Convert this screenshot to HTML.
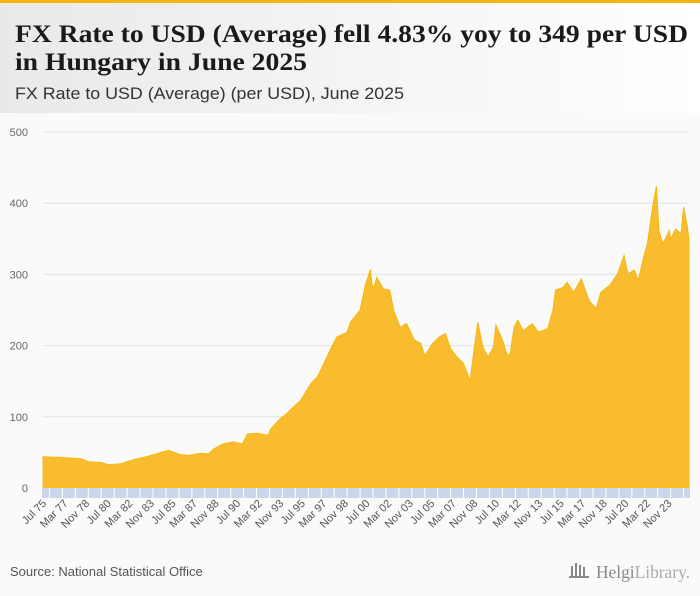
<!DOCTYPE html>
<html><head><meta charset="utf-8"><style>
html,body{margin:0;padding:0;background:#fafafa;}
svg{display:block;font-family:"Liberation Sans",sans-serif;}
</style></head><body>
<svg id="chart" width="700" height="596" viewBox="0 0 700 596" xmlns="http://www.w3.org/2000/svg">
<defs>
<linearGradient id="hdr" x1="0" x2="1" y1="0" y2="0"><stop offset="0" stop-color="#e9e9e9"/><stop offset="1" stop-color="#ffffff"/></linearGradient>
</defs>
<rect x="0" y="0" width="700" height="596" fill="#fafafa"/>
<rect x="0" y="3" width="700" height="110" fill="url(#hdr)"/>
<rect x="0" y="0" width="700" height="3" fill="#f5b400"/>
<text x="15" y="42" font-family="Liberation Serif,serif" font-weight="bold" font-size="25" fill="#1a1a1a" textLength="673" lengthAdjust="spacingAndGlyphs">FX Rate to USD (Average) fell 4.83% yoy to 349 per USD</text>
<text x="15" y="70" font-family="Liberation Serif,serif" font-weight="bold" font-size="25" fill="#1a1a1a" textLength="292" lengthAdjust="spacingAndGlyphs">in Hungary in June 2025</text>
<text x="15" y="99" font-size="17" fill="#333" textLength="389" lengthAdjust="spacingAndGlyphs">FX Rate to USD (Average) (per USD), June 2025</text>
<g id="grid"></g>
<g id="yticks"></g>
<path id="area" fill="#f9bc2f" stroke="#f5b400" stroke-width="0.8"/>
<g id="xband"></g>
<text x="10" y="576" font-size="13" fill="#555">Source: National Statistical Office</text>
<g>
<g fill="#888"><rect x="571" y="566" width="2" height="11"/><rect x="575" y="563" width="2" height="14"/><rect x="579" y="565" width="2" height="12"/><rect x="583" y="567" width="2" height="10"/><rect x="569" y="576" width="20" height="2"/></g>
<text x="596" y="578" font-family="Liberation Serif,serif" font-size="18" fill="#888" textLength="94" lengthAdjust="spacingAndGlyphs">Helgi<tspan fill="#aaa">Library.</tspan></text>
</g>
</svg>
<script>
const dates=[1975.5,1977.0,1978.5,1979.0,1980.0,1980.5,1981.5,1982.0,1982.5,1983.5,1984.6,1985.2,1986.1,1986.8,1987.7,1988.3,1988.7,1989.4,1990.2,1990.9,1991.3,1992.1,1992.9,1993.1,1993.8,1994.3,1994.8,1995.4,1996.2,1996.7,1997.2,1997.8,1998.2,1999.0,1999.25,2000.0,2000.4,2000.8,2001.0,2001.3,2001.8,2002.3,2002.6,2003.1,2003.6,2004.2,2004.7,2005.0,2005.6,2006.1,2006.6,2007.0,2007.5,2008.0,2008.5,2008.9,2009.1,2009.5,2009.9,2010.3,2010.5,2011.0,2011.4,2011.6,2011.9,2012.2,2012.6,2013.3,2013.8,2014.5,2014.9,2015.1,2015.7,2016.0,2016.5,2017.1,2017.6,2017.8,2018.25,2018.6,2019.3,2019.9,2020.4,2020.7,2021.2,2021.5,2021.9,2022.2,2022.6,2022.9,2023.1,2023.4,2023.9,2024.0,2024.4,2024.8,2025.0,2025.3,2025.42];
const values=[44,43,41,37,36,33,34,37,40,44,50,53,47,46,49,48,55,62,65,62,76,77,74,83,97,104,113,123,147,156,175,198,212,219,233,250,285,307,278,296,280,278,250,226,231,208,203,186,203,212,217,196,184,175,151,208,233,198,184,198,229,208,186,189,226,236,221,231,219,224,250,278,282,289,275,294,268,261,252,275,285,301,327,301,306,292,324,343,395,424,362,343,362,350,364,357,395,367,349];
const yTicks=[0,100,200,300,400,500];
const xLabels=["Jul 75","Mar 77","Nov 78","Jul 80","Mar 82","Nov 83","Jul 85","Mar 87","Nov 88","Jul 90","Mar 92","Nov 93","Jul 95","Mar 97","Nov 98","Jul 00","Mar 02","Nov 03","Jul 05","Mar 07","Nov 08","Jul 10","Mar 12","Nov 13","Jul 15","Mar 17","Nov 18","Jul 20","Mar 22","Nov 23"];
const NS="http://www.w3.org/2000/svg";
const X0=43,X1=689,Y0=488,Y500=132,T0=1975.5,T1=2025.42;
const xs=t=>X0+(t-T0)/(T1-T0)*(X1-X0);
const ys=v=>Y0-(v/500)*(Y0-Y500);
function mk(tag,attrs,parent){const e=document.createElementNS(NS,tag);for(const k in attrs)e.setAttribute(k,attrs[k]);parent.appendChild(e);return e;}
const grid=document.getElementById('grid'),yt=document.getElementById('yticks'),xb=document.getElementById('xband');
yTicks.forEach(v=>{
  const l=mk('line',{x1:X0,x2:X1,y1:ys(v),y2:ys(v),stroke:'#e2e2e2','stroke-width':1},grid);
  
  
  const t=mk('text',{x:28,y:ys(v)+4,'text-anchor':'end','font-size':11,fill:'#666'},yt);
  t.textContent=v;
  
  
});
let d='M'+xs(dates[0])+','+Y0;
dates.forEach((t,i)=>{d+=' L'+xs(t).toFixed(2)+','+ys(values[i]).toFixed(2);});
d+=' L'+xs(dates[dates.length-1]).toFixed(2)+','+Y0+' Z';
document.getElementById('area').setAttribute('d',d);
const band=mk('rect',{x:X0-1,y:Y0,width:X1-X0+2,height:10,fill:'#ccd6ea'},xb);


for(let y=1976;y<=2025;y++){
  const s=mk('line',{x1:xs(y),x2:xs(y),y1:Y0,y2:Y0+10,stroke:'#fff','stroke-width':1},xb);
  
  
}
xLabels.forEach((lab,i)=>{
  const t0=T0+i*20/12;
  const x=xs(t0)+4,y=Y0+16;
  const t=mk('text',{x:x,y:y,'text-anchor':'end','font-size':11,fill:'#555',transform:`rotate(-45 ${x} ${y})`},xb);
  t.textContent=lab;
  
  
});
</script>
</body></html>
